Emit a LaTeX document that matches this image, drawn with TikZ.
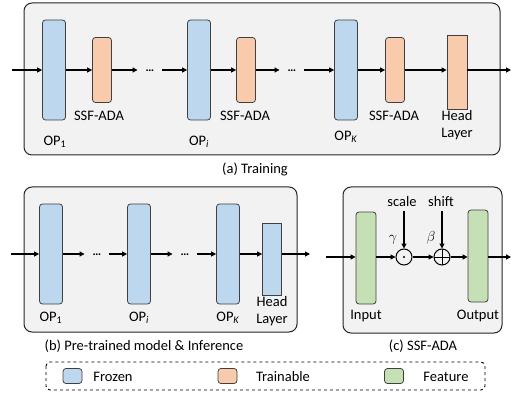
\documentclass[tikz,border=0pt]{standalone}
\usepackage{fontspec}
\setmainfont{Carlito}
\usetikzlibrary{arrows.meta}
\definecolor{frozen}{HTML}{BDD7EE}
\definecolor{trainable}{HTML}{F8CBAD}
\definecolor{feature}{HTML}{C5E0B4}
\definecolor{panel}{HTML}{F2F2F2}

\begin{document}
\begin{tikzpicture}[x=1pt, y=-1pt,
        font=\fontsize{14.5}{17}\selectfont,
        panelbox/.style={draw=black!85, line width=1pt, fill=panel, rounded corners=8pt},
        opn/.style={rectangle, draw=black!75, line width=0.8pt, fill=frozen, rounded corners=3pt, minimum width=23pt, minimum height=100pt, inner sep=0pt},
        ssfn/.style={rectangle, draw=black!75, line width=0.8pt, fill=trainable, rounded corners=3pt, minimum width=19pt, minimum height=65pt, inner sep=0pt},
        headn/.style={rectangle, draw=black!75, line width=0.8pt, minimum width=20pt, minimum height=74pt, inner sep=0pt},
        featn/.style={rectangle, draw=black!75, line width=0.8pt, fill=feature, rounded corners=3pt, minimum width=20pt, minimum height=92pt, inner sep=0pt},
        dotn/.style={inner xsep=8pt, inner ysep=0pt, font=\fontsize{12}{12}\selectfont\bfseries},
        opc/.style={circle, draw=black, line width=1pt, minimum size=16pt, inner sep=0pt},
        swatch/.style={rectangle, draw=black!75, line width=0.8pt, rounded corners=3pt, minimum width=19pt, minimum height=15pt, inner sep=0pt},
        arr/.style={-{Triangle[width=5pt,length=5pt]}, line width=1.1pt},
        ]
      \useasboundingbox (0,0) rectangle (511,398);

      % (a) Training
      \draw[panelbox] (24,3) rectangle (500,155);
      \node[opn] (op1) at (54,70) {};
      \node[ssfn] (ssf1) at (102,70) {};
      \node[dotn] (dt1) at (150,71) {\dots};
      \node[opn] (opi) at (199,70) {};
      \node[ssfn] (ssf2) at (246,70) {};
      \node[dotn] (dt2) at (292,71) {\dots};
      \node[opn] (opk) at (346,70) {};
      \node[ssfn] (ssf3) at (395,70) {};
      \node[headn, fill=trainable] (head) at (457,72) {};
      \coordinate (ina) at (12,70);
      \coordinate (outa) at (511,70);

      \draw[arr] (ina) -- (op1.west);
      \draw[arr] (op1.east) -- (ssf1.west);
      \draw[arr] (ssf1.east) -- (ssf1.east -| dt1.west);
      \draw[arr] (opi.west -| dt1.east) -- (opi.west);
      \draw[arr] (opi.east) -- (ssf2.west);
      \draw[arr] (ssf2.east) -- (ssf2.east -| dt2.west);
      \draw[arr] (opk.west -| dt2.east) -- (opk.west);
      \draw[arr] (opk.east) -- (ssf3.west);
      \draw[arr] (ssf3.east) -- (ssf3.east -| head.west);
      \draw[arr] (ssf3.east -| head.east) -- (outa);

      \node (la1) at (99,116) {SSF-ADA};
      \node (la2) at (245,116) {SSF-ADA};
      \node (la3) at (394,116) {SSF-ADA};
      \node (lo1) at (55,142) {OP\textsubscript{1}};
      \node (loi) at (199,142) {OP\textsubscript{\textit{i}}};
      \node (lok) at (346,137) {OP\textsubscript{\textit{K}}};
      \node[align=center, font=\fontsize{14.5}{17}\selectfont] (lh) at (457,125) {Head\\Layer};
      \node (capa) at (255,169) {(a) Training};

      % (b) Pre-trained model & Inference
      \draw[panelbox] (24,187) rectangle (297,332);
      \node[opn] (bop1) at (51,254) {};
      \node[dotn] (bdt1) at (97,255) {\dots};
      \node[opn] (bopi) at (139,254) {};
      \node[dotn] (bdt2) at (185,255) {\dots};
      \node[opn] (bopk) at (228,254) {};
      \node[headn, fill=frozen, minimum width=19pt, minimum height=72pt] (bhead) at (272,259) {};
      \coordinate (inb) at (11,254);
      \coordinate (outb) at (310,254);

      \draw[arr] (inb) -- (bop1.west);
      \draw[arr] (bop1.east) -- (bop1.east -| bdt1.west);
      \draw[arr] (bopi.west -| bdt1.east) -- (bopi.west);
      \draw[arr] (bopi.east) -- (bopi.east -| bdt2.west);
      \draw[arr] (bopk.west -| bdt2.east) -- (bopk.west);
      \draw[arr] (bopk.east) -- (bopk.east -| bhead.west);
      \draw[arr] (bopk.east -| bhead.east) -- (outb);

      \node (blo1) at (51,318) {OP\textsubscript{1}};
      \node (bloi) at (139,318) {OP\textsubscript{\textit{i}}};
      \node (blok) at (228,318) {OP\textsubscript{\textit{K}}};
      \node[align=center, font=\fontsize{14.5}{17}\selectfont] (blh) at (272,311) {Head\\Layer};
      \node (capb) at (144,346) {(b) Pre-trained model \& Inference};

      % (c) SSF-ADA
      \draw[panelbox] (343,187) rectangle (502,333);
      \node[featn] (inp) at (366,258) {};
      \node[featn] (outp) at (478,256) {};
      \node[opc] (mul) at (404,257) {};
      \fill (mul.center) circle (1.2pt);
      \node[opc, path picture={\draw[line width=1pt] (path picture bounding box.north) -- (path picture bounding box.south) (path picture bounding box.west) -- (path picture bounding box.east);}] (add) at (442,257) {};
      \node (sc) at (402,202) {scale};
      \node (sh) at (441,202) {shift};
      \node[font=\fontsize{14}{14}\selectfont] (gam) at (393,240) {$\gamma$};
      \node[font=\fontsize{14}{14}\selectfont] (bet) at (431,238) {$\beta$};
      \coordinate (inc) at (326,257);
      \coordinate (outc) at (511,257);

      \draw[arr] (inc) -- (inp.west |- inc);
      \draw[arr] (inp.east |- mul) -- (mul.west);
      \draw[arr] (mul.east) -- (add.west);
      \draw[arr] (add.east) -- (outp.west |- add);
      \draw[arr] (outp.east |- add) -- (outc);
      \draw[arr] (sc.south -| mul) -- (mul.north);
      \draw[arr] (sh.south -| add) -- (add.north);

      \node (lin) at (366,316) {Input};
      \node (lout) at (478,316) {Output};
      \node (capc) at (423,346) {(c) SSF-ADA};

      % legend
      \draw[line width=0.9pt, dashed, rounded corners=4pt] (46,362) rectangle (485,390);
      \node[swatch, fill=frozen] (sw1) at (72.5,376) {};
      \node (lg1) at (113,377) {Frozen};
      \node[swatch, fill=trainable] (sw2) at (227.5,376) {};
      \node (lg2) at (283,377) {Trainable};
      \node[swatch, fill=feature] (sw3) at (394,376) {};
      \node (lg3) at (446,377) {Feature};
    \end{tikzpicture}
\end{document}
